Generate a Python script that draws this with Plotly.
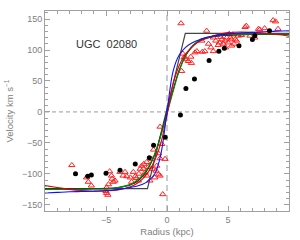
import plotly.graph_objects as go

# Observed points (black filled circles)
obs_r = [-7.5, -6.5, -6.2, -5.0, -3.85, -2.6, -1.45, -1.1, -0.15, 1.1, 1.55, 2.25, 3.45, 4.25, 4.7, 5.9, 7.0, 7.2, 8.4]
obs_v = [-100, -104, -102, -99, -94, -84, -74, -54, -41, -5, 38, 53, 83, 98, 103, 107, 117, 123, 131]

# Second data set (red open triangles)
tri_r = [-7.8, -6.6, -6.45, -6.2, -5.0, -4.95, -4.85, -4.95, -4.8, -4.7, -4.55, -4.5, -4.4, -4.26,
         -3.85, -3.6, -3.44, -3.3, -3.0, -2.9, -2.76, -2.6, -2.5, -2.35, -2.3, -2.2, -2.07, -1.94, -1.9,
         -1.8, -1.66, -1.66, -1.53, -1.4, -1.25, -1.2, -1.1, -1.0, -0.9, -0.84, -0.7, -0.7, -0.57,
         -0.57, -0.57, -0.43, -0.35, -0.16,
         1.15, 1.2, 1.3, 1.4, 1.6, 1.75, 1.95, 2.0, 2.3, 2.45, 2.85, 2.9, 3.1, 3.25, 3.4, 3.6, 3.8,
         3.8, 4.0, 4.2, 4.3, 4.4, 4.5, 4.6, 4.75, 4.8, 4.9, 5.0, 5.1, 5.2, 5.3, 5.3, 5.4, 5.5, 5.6,
         5.7, 5.85, 6.1, 6.4, 6.5, 6.8, 7.2, 7.5, 7.6, 8.0, 8.7, 8.9, 9.1]
tri_v = [-86, -106, -113, -119, -128, -131, -134, -122, -117, -96, -103, -108, -113, -111,
         -97, -103, -97, -104, -106, -113, -97, -104, -107, -111, -100, -92, -87, -92, -84,
         -98, -81, -103, -89, -111, -76, -92, -61, -106, -95, -87, -101, -67, -103,
         -75, -24, -52, -133, -76,
         143, 66, 94, 88, 85, 82, 89, 79, 96, 98, 115, 97, 98, 131, 110, 104, 98,
         120, 115, 108, 112, 121, 117, 110, 115, 104, 120, 112, 126, 120, 107, 117, 125, 110, 117,
         115, 123, 124, 137, 139, 123, 120, 134, 133, 135, 148, 146, 134]

# Model curves
curve_r = [-10, -9, -8, -7, -6, -5, -4, -3, -2.5, -2, -1.5, -1, -0.5, 0, 0.5, 1, 1.5, 2, 2.5, 3, 4, 5, 6, 7, 8, 9, 10]
red_v = [-119, -122, -125, -127, -128, -127.5, -126, -121, -116, -108, -96, -78, -50, -5, 45, 75, 93, 104, 112, 117, 124, 128, 129, 128.5, 127, 125, 122.5]
green_v = [-125, -125, -125, -125, -124.5, -124, -122, -117, -111, -102, -88, -68, -38, -3, 33, 66, 90, 105, 114, 119, 123, 125, 125.5, 125.5, 125.5, 125.5, 125.5]
blue_v = [-131, -130, -129, -128.5, -128, -127, -125, -122, -120, -117, -111, -100, -68, 0, 66, 92, 104, 111, 115.5, 119, 123.5, 126, 127.5, 128.5, 129.5, 130.5, 131]
dark_v = [-124, -124, -124, -124, -124, -123.5, -122, -118, -113, -104, -90, -68, -36, 0, 36, 68, 90, 104, 113, 118, 122, 124, 124.5, 125, 125, 125, 125]

step_r = [-10, -1.6, 1.5, 10]
step_v = [-124, -124, 127, 127]

fig = go.Figure()

fig.add_trace(go.Scatter(x=tri_r, y=tri_v, mode="markers",
                         marker=dict(symbol="triangle-up-open", size=5.5, color="#ff2020", line=dict(width=1)),
                         showlegend=False))
fig.add_trace(go.Scatter(x=step_r, y=step_v, mode="lines", line=dict(color="#444444", width=1.2), showlegend=False))
fig.add_trace(go.Scatter(x=curve_r, y=dark_v, mode="lines", line=dict(color="#222222", width=1.1, shape="spline"), showlegend=False))
fig.add_trace(go.Scatter(x=curve_r, y=green_v, mode="lines", line=dict(color="#008a00", width=1.1, shape="spline"), showlegend=False))
fig.add_trace(go.Scatter(x=curve_r, y=red_v, mode="lines", line=dict(color="#e00000", width=1.1, shape="spline"), showlegend=False))
fig.add_trace(go.Scatter(x=curve_r, y=blue_v, mode="lines", line=dict(color="#1010ff", width=1.1, shape="spline"), showlegend=False))
fig.add_trace(go.Scatter(x=obs_r, y=obs_v, mode="markers",
                         marker=dict(symbol="circle", size=5, color="black"), showlegend=False))

# zero lines
fig.add_shape(type="line", xref="x", yref="y", x0=-10, x1=10, y0=0, y1=0,
              line=dict(color="#999999", width=1, dash="4px,3px"), layer="below")
fig.add_shape(type="line", xref="x", yref="y", x0=0, x1=0, y0=-160, y1=163,
              line=dict(color="#cccccc", width=2, dash="6px,4px"), layer="below")

fig.add_annotation(x=-5, y=109, xref="x", yref="y", text="UGC  02080", showarrow=False,
                   font=dict(size=11, color="#333333", family="Liberation Sans"))

axis_common = dict(showgrid=False, zeroline=False, showline=True, linecolor="#a0a0a0", linewidth=1,
                   mirror="ticks", ticks="inside", ticklen=5, tickcolor="#a0a0a0", automargin=False,
                   tickfont=dict(size=9, color="#808080", family="Liberation Sans"))

fig.update_xaxes(range=[-10, 10], tickvals=[-5, 0, 5], ticktext=["\u22125", "0", "5"],
                 minor=dict(dtick=1, tick0=0, ticks="inside", ticklen=3, tickcolor="#a0a0a0"),
                 title=dict(text="Radius (kpc)", font=dict(size=9.5, color="#808080", family="Liberation Sans"), standoff=4),
                 **axis_common)
fig.update_yaxes(range=[-160, 163], tickvals=[-150, -100, -50, 0, 50, 100, 150],
                 ticktext=["\u2212150", "\u2212100", "\u221250", "0", "50", "100", "150"],
                 minor=dict(dtick=10, tick0=0, ticks="inside", ticklen=3, tickcolor="#a0a0a0"),
                 title=dict(text="Velocity km s<sup>\u22121</sup>", font=dict(size=9.5, color="#808080", family="Liberation Sans"), standoff=6),
                 **axis_common)

fig.update_layout(width=300, height=240, margin=dict(l=45, r=11, t=11, b=29),
                  plot_bgcolor="white", paper_bgcolor="white")

fig.write_html("out.html", config={"displayModeBar": False},
               post_script="document.body.style.margin='0';document.body.style.overflow='hidden';")
